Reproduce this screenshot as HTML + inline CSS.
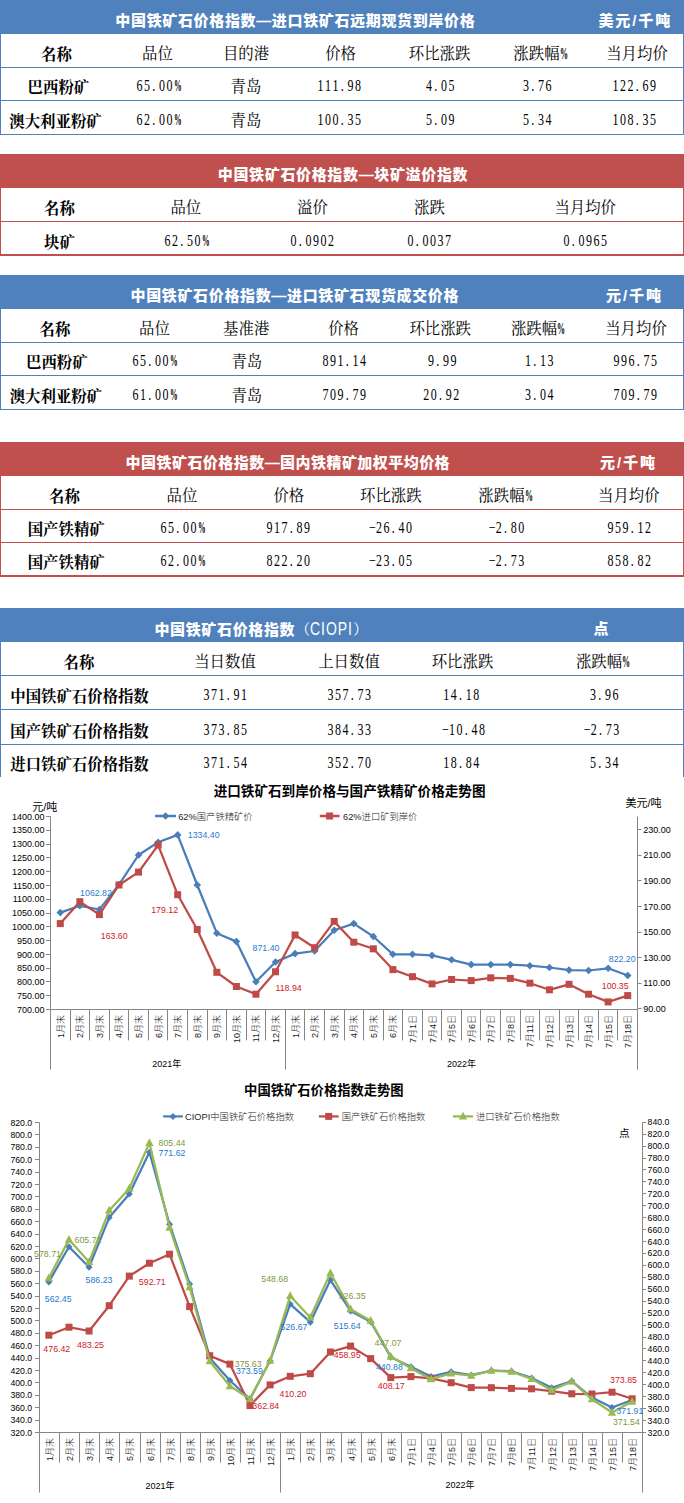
<!DOCTYPE html>
<html lang="zh-CN"><head><meta charset="utf-8"><title>中国铁矿石价格指数</title>
<style>
html,body{margin:0;padding:0;background:#fff}
body{width:684px;height:1503px;position:relative;overflow:hidden}
.bx{position:absolute}
.ttl,.b,.r,.n{position:absolute;line-height:20px;white-space:nowrap;text-align:center}
.ttl{font:900 15px/20px "Liberation Sans","Noto Sans CJK SC",sans-serif;color:#fff;letter-spacing:0.65px}
.cio{font:400 15px/20px "Liberation Serif","Noto Serif CJK SC",serif;letter-spacing:0}
.cio span{display:inline-block;font:400 17.5px/20px "Liberation Sans",sans-serif;letter-spacing:1.2px;transform:scaleX(0.8);transform-origin:0 0;margin-right:-11px}
.b{font:700 15.4px/20px "Liberation Serif","Noto Serif CJK SC",serif;color:#000}
.r{font:400 15.4px/20px "Liberation Serif","Noto Serif CJK SC",serif;color:#000}
.n{font:400 15px/20px "Liberation Serif",serif;color:#000;font-kerning:none;letter-spacing:1.875px;padding-left:1.2px;transform:scale(0.8,1.05)}
.n i,.r i{display:inline-block;width:7.5px;font-style:normal;text-align:center;letter-spacing:0}
.n i{width:9.375px}
.n i.d{text-align:left;padding-left:1px;width:8.375px}
.n i.pc,.r i.pc{font-family:"Liberation Serif",serif;font-size:16px;font-weight:700;transform:scaleX(0.5);transform-origin:0 0;width:16px;margin-right:-8.5px;text-align:left}
.n i.pc{transform:scaleX(0.6);margin-right:-6.625px}
svg{position:absolute;left:0;top:0}
</style></head><body>
<div class="bx" style="left:0px;top:0px;width:684px;height:34px;background:#4F81BD"></div>
<div class="ttl" style="left:-4.7px;top:10.5px;width:600px">中国铁矿石价格指数—进口铁矿石远期现货到岸价格</div>
<div class="ttl" style="left:575.3px;top:10.5px;width:120px;letter-spacing:1.9px">美元/千吨</div>
<div class="bx" style="left:0px;top:34px;width:1px;height:101px;background:#4F81BD"></div>
<div class="bx" style="left:683px;top:34px;width:1px;height:101px;background:#4F81BD"></div>
<div class="bx" style="left:0px;top:67px;width:684px;height:1px;background:#4F81BD"></div>
<div class="bx" style="left:0px;top:100px;width:684px;height:1px;background:#4F81BD"></div>
<div class="bx" style="left:0px;top:134px;width:684px;height:1px;background:#4F81BD"></div>
<div class="b" style="left:-93.5px;top:44.5px;width:300px">名称</div>
<div class="r" style="left:7.5px;top:44.0px;width:300px">品位</div>
<div class="r" style="left:96.0px;top:44.0px;width:300px">目的港</div>
<div class="r" style="left:190.6px;top:44.0px;width:300px">价格</div>
<div class="r" style="left:289.6px;top:44.0px;width:300px">环比涨跌</div>
<div class="r" style="left:390.2px;top:44.0px;width:300px">涨跌幅<i class=pc>%</i></div>
<div class="r" style="left:487.0px;top:44.0px;width:300px">当月均价</div>
<div class="b" style="left:-91.6px;top:77.5px;width:300px">巴西粉矿</div>
<div class="n" style="left:7.5px;top:75.7px;width:300px">65<i class=d>.</i>00<i class=pc>%</i></div>
<div class="r" style="left:96.0px;top:77.0px;width:300px">青岛</div>
<div class="n" style="left:189.3px;top:75.7px;width:300px">111<i class=d>.</i>98</div>
<div class="n" style="left:290.4px;top:75.7px;width:300px">4<i class=d>.</i>05</div>
<div class="n" style="left:387.4px;top:75.7px;width:300px">3<i class=d>.</i>76</div>
<div class="n" style="left:483.7px;top:75.7px;width:300px">122<i class=d>.</i>69</div>
<div class="b" style="left:-94.5px;top:111.5px;width:300px">澳大利亚粉矿</div>
<div class="n" style="left:7.5px;top:109.7px;width:300px">62<i class=d>.</i>00<i class=pc>%</i></div>
<div class="r" style="left:96.0px;top:111.0px;width:300px">青岛</div>
<div class="n" style="left:189.3px;top:109.7px;width:300px">100<i class=d>.</i>35</div>
<div class="n" style="left:290.4px;top:109.7px;width:300px">5<i class=d>.</i>09</div>
<div class="n" style="left:387.4px;top:109.7px;width:300px">5<i class=d>.</i>34</div>
<div class="n" style="left:483.7px;top:109.7px;width:300px">108<i class=d>.</i>35</div>
<div class="bx" style="left:0px;top:154px;width:684px;height:34px;background:#C0504D"></div>
<div class="ttl" style="left:43.0px;top:164.5px;width:600px">中国铁矿石价格指数—块矿溢价指数</div>
<div class="bx" style="left:0px;top:188px;width:1px;height:68px;background:#C0504D"></div>
<div class="bx" style="left:683px;top:188px;width:1px;height:68px;background:#C0504D"></div>
<div class="bx" style="left:0px;top:221px;width:684px;height:1px;background:#C0504D"></div>
<div class="bx" style="left:0px;top:254px;width:684px;height:2px;background:#C0504D"></div>
<div class="b" style="left:-90.5px;top:198.5px;width:300px">名称</div>
<div class="r" style="left:35.8px;top:198.0px;width:300px">品位</div>
<div class="r" style="left:162.5px;top:198.0px;width:300px">溢价</div>
<div class="r" style="left:279.5px;top:198.0px;width:300px">涨跌</div>
<div class="r" style="left:435.2px;top:198.0px;width:300px">当月均价</div>
<div class="b" style="left:-90.5px;top:232.5px;width:300px">块矿</div>
<div class="n" style="left:35.8px;top:230.7px;width:300px">62<i class=d>.</i>50<i class=pc>%</i></div>
<div class="n" style="left:162.0px;top:230.7px;width:300px">0<i class=d>.</i>0902</div>
<div class="n" style="left:279.0px;top:230.7px;width:300px">0<i class=d>.</i>0037</div>
<div class="n" style="left:434.5px;top:230.7px;width:300px">0<i class=d>.</i>0965</div>
<div class="bx" style="left:0px;top:275px;width:684px;height:34px;background:#4F81BD"></div>
<div class="ttl" style="left:-5.2px;top:285.5px;width:600px">中国铁矿石价格指数—进口铁矿石现货成交价格</div>
<div class="ttl" style="left:574.5px;top:285.5px;width:120px;letter-spacing:1.9px">元/千吨</div>
<div class="bx" style="left:0px;top:309px;width:1px;height:101px;background:#4F81BD"></div>
<div class="bx" style="left:683px;top:309px;width:1px;height:101px;background:#4F81BD"></div>
<div class="bx" style="left:0px;top:342px;width:684px;height:1px;background:#4F81BD"></div>
<div class="bx" style="left:0px;top:375px;width:684px;height:1px;background:#4F81BD"></div>
<div class="bx" style="left:0px;top:409px;width:684px;height:1px;background:#4F81BD"></div>
<div class="b" style="left:-95.0px;top:319.5px;width:300px">名称</div>
<div class="r" style="left:4.5px;top:319.0px;width:300px">品位</div>
<div class="r" style="left:96.2px;top:319.0px;width:300px">基准港</div>
<div class="r" style="left:193.6px;top:319.0px;width:300px">价格</div>
<div class="r" style="left:290.2px;top:319.0px;width:300px">环比涨跌</div>
<div class="r" style="left:387.8px;top:319.0px;width:300px">涨跌幅<i class=pc>%</i></div>
<div class="r" style="left:486.0px;top:319.0px;width:300px">当月均价</div>
<div class="b" style="left:-93.2px;top:352.5px;width:300px">巴西粉矿</div>
<div class="n" style="left:4.2px;top:350.7px;width:300px">65<i class=d>.</i>00<i class=pc>%</i></div>
<div class="r" style="left:96.8px;top:352.0px;width:300px">青岛</div>
<div class="n" style="left:194.0px;top:350.7px;width:300px">891<i class=d>.</i>14</div>
<div class="n" style="left:291.5px;top:350.7px;width:300px">9<i class=d>.</i>99</div>
<div class="n" style="left:388.8px;top:350.7px;width:300px">1<i class=d>.</i>13</div>
<div class="n" style="left:485.0px;top:350.7px;width:300px">996<i class=d>.</i>75</div>
<div class="b" style="left:-94.2px;top:386.5px;width:300px">澳大利亚粉矿</div>
<div class="n" style="left:4.2px;top:384.7px;width:300px">61<i class=d>.</i>00<i class=pc>%</i></div>
<div class="r" style="left:96.8px;top:386.0px;width:300px">青岛</div>
<div class="n" style="left:194.0px;top:384.7px;width:300px">709<i class=d>.</i>79</div>
<div class="n" style="left:290.8px;top:384.7px;width:300px">20<i class=d>.</i>92</div>
<div class="n" style="left:388.8px;top:384.7px;width:300px">3<i class=d>.</i>04</div>
<div class="n" style="left:485.0px;top:384.7px;width:300px">709<i class=d>.</i>79</div>
<div class="bx" style="left:0px;top:442px;width:684px;height:34px;background:#C0504D"></div>
<div class="ttl" style="left:-12.2px;top:452.5px;width:600px;letter-spacing:0.45px">中国铁矿石价格指数—国内铁精矿加权平均价格</div>
<div class="ttl" style="left:568.5px;top:452.5px;width:120px;letter-spacing:1.9px">元/千吨</div>
<div class="bx" style="left:0px;top:476px;width:1px;height:101px;background:#C0504D"></div>
<div class="bx" style="left:683px;top:476px;width:1px;height:101px;background:#C0504D"></div>
<div class="bx" style="left:0px;top:509px;width:684px;height:1px;background:#C0504D"></div>
<div class="bx" style="left:0px;top:542px;width:684px;height:1px;background:#C0504D"></div>
<div class="bx" style="left:0px;top:575px;width:684px;height:2px;background:#C0504D"></div>
<div class="b" style="left:-85.5px;top:486.5px;width:300px">名称</div>
<div class="r" style="left:32.0px;top:486.0px;width:300px">品位</div>
<div class="r" style="left:138.8px;top:486.0px;width:300px">价格</div>
<div class="r" style="left:240.8px;top:486.0px;width:300px">环比涨跌</div>
<div class="r" style="left:355.2px;top:486.0px;width:300px">涨跌幅<i class=pc>%</i></div>
<div class="r" style="left:478.8px;top:486.0px;width:300px">当月均价</div>
<div class="b" style="left:-83.8px;top:519.5px;width:300px">国产铁精矿</div>
<div class="n" style="left:32.0px;top:517.7px;width:300px">65<i class=d>.</i>00<i class=pc>%</i></div>
<div class="n" style="left:138.0px;top:517.7px;width:300px">917<i class=d>.</i>89</div>
<div class="n" style="left:240.0px;top:517.7px;width:300px"><i>&#8722;</i>26<i class=d>.</i>40</div>
<div class="n" style="left:355.8px;top:517.7px;width:300px"><i>&#8722;</i>2<i class=d>.</i>80</div>
<div class="n" style="left:479.0px;top:517.7px;width:300px">959<i class=d>.</i>12</div>
<div class="b" style="left:-83.8px;top:552.5px;width:300px">国产铁精矿</div>
<div class="n" style="left:32.0px;top:550.7px;width:300px">62<i class=d>.</i>00<i class=pc>%</i></div>
<div class="n" style="left:138.0px;top:550.7px;width:300px">822<i class=d>.</i>20</div>
<div class="n" style="left:240.0px;top:550.7px;width:300px"><i>&#8722;</i>23<i class=d>.</i>05</div>
<div class="n" style="left:355.8px;top:550.7px;width:300px"><i>&#8722;</i>2<i class=d>.</i>73</div>
<div class="n" style="left:479.0px;top:550.7px;width:300px">858<i class=d>.</i>82</div>
<div class="bx" style="left:0px;top:608px;width:684px;height:34px;background:#4F81BD"></div>
<div class="ttl" style="left:-38.8px;top:618.5px;width:600px">中国铁矿石价格指数<span class=cio>（<span>CIOPI</span>）</span></div>
<div class="ttl" style="left:542.0px;top:618.5px;width:120px;letter-spacing:1.9px">点</div>
<div class="bx" style="left:0px;top:642px;width:1px;height:135px;background:#4F81BD"></div>
<div class="bx" style="left:683px;top:642px;width:1px;height:135px;background:#4F81BD"></div>
<div class="bx" style="left:0px;top:675px;width:684px;height:1px;background:#4F81BD"></div>
<div class="bx" style="left:0px;top:709px;width:684px;height:1px;background:#4F81BD"></div>
<div class="bx" style="left:0px;top:744px;width:684px;height:1px;background:#4F81BD"></div>
<div class="b" style="left:-71.0px;top:652.5px;width:300px">名称</div>
<div class="r" style="left:75.0px;top:652.0px;width:300px">当日数值</div>
<div class="r" style="left:199.0px;top:652.0px;width:300px">上日数值</div>
<div class="r" style="left:312.5px;top:652.0px;width:300px">环比涨跌</div>
<div class="r" style="left:452.8px;top:652.0px;width:300px">涨跌幅<i class=pc>%</i></div>
<div class="b" style="left:-70.5px;top:686.5px;width:300px">中国铁矿石价格指数</div>
<div class="n" style="left:74.5px;top:684.7px;width:300px">371<i class=d>.</i>91</div>
<div class="n" style="left:199.3px;top:684.7px;width:300px">357<i class=d>.</i>73</div>
<div class="n" style="left:310.8px;top:684.7px;width:300px">14<i class=d>.</i>18</div>
<div class="n" style="left:453.8px;top:684.7px;width:300px">3<i class=d>.</i>96</div>
<div class="b" style="left:-70.5px;top:721.5px;width:300px">国产铁矿石价格指数</div>
<div class="n" style="left:74.5px;top:719.7px;width:300px">373<i class=d>.</i>85</div>
<div class="n" style="left:199.3px;top:719.7px;width:300px">384<i class=d>.</i>33</div>
<div class="n" style="left:312.5px;top:719.7px;width:300px"><i>&#8722;</i>10<i class=d>.</i>48</div>
<div class="n" style="left:451.2px;top:719.7px;width:300px"><i>&#8722;</i>2<i class=d>.</i>73</div>
<div class="b" style="left:-70.5px;top:754.5px;width:300px">进口铁矿石价格指数</div>
<div class="n" style="left:74.5px;top:752.7px;width:300px">371<i class=d>.</i>54</div>
<div class="n" style="left:199.3px;top:752.7px;width:300px">352<i class=d>.</i>70</div>
<div class="n" style="left:310.8px;top:752.7px;width:300px">18<i class=d>.</i>84</div>
<div class="n" style="left:453.8px;top:752.7px;width:300px">5<i class=d>.</i>34</div>
<svg width="684" height="1503" viewBox="0 0 684 1503">
<text x="349.60" y="795.50" font-size="13.6" text-anchor="middle" fill="#000" font-weight="700" font-family='"Liberation Sans","Noto Sans CJK SC",sans-serif'>进口铁矿石到岸价格与国产铁精矿价格走势图</text>
<text x="44.80" y="811.00" font-size="11" text-anchor="middle" fill="#000" font-weight="400" font-family='"Liberation Sans","Noto Sans CJK SC",sans-serif'>元/吨</text>
<text x="643.60" y="806.50" font-size="11" text-anchor="middle" fill="#000" font-weight="400" font-family='"Liberation Sans","Noto Sans CJK SC",sans-serif'>美元/吨</text>
<line x1="50.50" y1="816.50" x2="50.50" y2="1009.50" stroke="#868686" stroke-width="1"/>
<line x1="637.50" y1="816.50" x2="637.50" y2="1069.50" stroke="#868686" stroke-width="1"/>
<line x1="46.00" y1="816.50" x2="50.50" y2="816.50" stroke="#868686" stroke-width="1"/>
<text x="44.60" y="819.70" font-size="9" text-anchor="end" fill="#000" font-weight="400" font-family='"Liberation Sans","Noto Sans CJK SC",sans-serif'>1400.00</text>
<line x1="46.00" y1="830.50" x2="50.50" y2="830.50" stroke="#868686" stroke-width="1"/>
<text x="44.60" y="833.49" font-size="9" text-anchor="end" fill="#000" font-weight="400" font-family='"Liberation Sans","Noto Sans CJK SC",sans-serif'>1350.00</text>
<line x1="46.00" y1="844.50" x2="50.50" y2="844.50" stroke="#868686" stroke-width="1"/>
<text x="44.60" y="847.27" font-size="9" text-anchor="end" fill="#000" font-weight="400" font-family='"Liberation Sans","Noto Sans CJK SC",sans-serif'>1300.00</text>
<line x1="46.00" y1="857.50" x2="50.50" y2="857.50" stroke="#868686" stroke-width="1"/>
<text x="44.60" y="861.06" font-size="9" text-anchor="end" fill="#000" font-weight="400" font-family='"Liberation Sans","Noto Sans CJK SC",sans-serif'>1250.00</text>
<line x1="46.00" y1="871.50" x2="50.50" y2="871.50" stroke="#868686" stroke-width="1"/>
<text x="44.60" y="874.84" font-size="9" text-anchor="end" fill="#000" font-weight="400" font-family='"Liberation Sans","Noto Sans CJK SC",sans-serif'>1200.00</text>
<line x1="46.00" y1="885.50" x2="50.50" y2="885.50" stroke="#868686" stroke-width="1"/>
<text x="44.60" y="888.63" font-size="9" text-anchor="end" fill="#000" font-weight="400" font-family='"Liberation Sans","Noto Sans CJK SC",sans-serif'>1150.00</text>
<line x1="46.00" y1="899.50" x2="50.50" y2="899.50" stroke="#868686" stroke-width="1"/>
<text x="44.60" y="902.41" font-size="9" text-anchor="end" fill="#000" font-weight="400" font-family='"Liberation Sans","Noto Sans CJK SC",sans-serif'>1100.00</text>
<line x1="46.00" y1="913.50" x2="50.50" y2="913.50" stroke="#868686" stroke-width="1"/>
<text x="44.60" y="916.20" font-size="9" text-anchor="end" fill="#000" font-weight="400" font-family='"Liberation Sans","Noto Sans CJK SC",sans-serif'>1050.00</text>
<line x1="46.00" y1="926.50" x2="50.50" y2="926.50" stroke="#868686" stroke-width="1"/>
<text x="44.60" y="929.99" font-size="9" text-anchor="end" fill="#000" font-weight="400" font-family='"Liberation Sans","Noto Sans CJK SC",sans-serif'>1000.00</text>
<line x1="46.00" y1="940.50" x2="50.50" y2="940.50" stroke="#868686" stroke-width="1"/>
<text x="44.60" y="943.77" font-size="9" text-anchor="end" fill="#000" font-weight="400" font-family='"Liberation Sans","Noto Sans CJK SC",sans-serif'>950.00</text>
<line x1="46.00" y1="954.50" x2="50.50" y2="954.50" stroke="#868686" stroke-width="1"/>
<text x="44.60" y="957.56" font-size="9" text-anchor="end" fill="#000" font-weight="400" font-family='"Liberation Sans","Noto Sans CJK SC",sans-serif'>900.00</text>
<line x1="46.00" y1="968.50" x2="50.50" y2="968.50" stroke="#868686" stroke-width="1"/>
<text x="44.60" y="971.34" font-size="9" text-anchor="end" fill="#000" font-weight="400" font-family='"Liberation Sans","Noto Sans CJK SC",sans-serif'>850.00</text>
<line x1="46.00" y1="981.50" x2="50.50" y2="981.50" stroke="#868686" stroke-width="1"/>
<text x="44.60" y="985.13" font-size="9" text-anchor="end" fill="#000" font-weight="400" font-family='"Liberation Sans","Noto Sans CJK SC",sans-serif'>800.00</text>
<line x1="46.00" y1="995.50" x2="50.50" y2="995.50" stroke="#868686" stroke-width="1"/>
<text x="44.60" y="998.91" font-size="9" text-anchor="end" fill="#000" font-weight="400" font-family='"Liberation Sans","Noto Sans CJK SC",sans-serif'>750.00</text>
<line x1="46.00" y1="1009.50" x2="50.50" y2="1009.50" stroke="#868686" stroke-width="1"/>
<text x="44.60" y="1012.70" font-size="9" text-anchor="end" fill="#000" font-weight="400" font-family='"Liberation Sans","Noto Sans CJK SC",sans-serif'>700.00</text>
<line x1="637.50" y1="829.50" x2="641.50" y2="829.50" stroke="#868686" stroke-width="1"/>
<text x="643.30" y="832.70" font-size="9" text-anchor="start" fill="#000" font-weight="400" font-family='"Liberation Sans","Noto Sans CJK SC",sans-serif'>230.00</text>
<line x1="637.50" y1="855.50" x2="641.50" y2="855.50" stroke="#868686" stroke-width="1"/>
<text x="643.30" y="858.33" font-size="9" text-anchor="start" fill="#000" font-weight="400" font-family='"Liberation Sans","Noto Sans CJK SC",sans-serif'>210.00</text>
<line x1="637.50" y1="880.50" x2="641.50" y2="880.50" stroke="#868686" stroke-width="1"/>
<text x="643.30" y="883.96" font-size="9" text-anchor="start" fill="#000" font-weight="400" font-family='"Liberation Sans","Noto Sans CJK SC",sans-serif'>190.00</text>
<line x1="637.50" y1="906.50" x2="641.50" y2="906.50" stroke="#868686" stroke-width="1"/>
<text x="643.30" y="909.59" font-size="9" text-anchor="start" fill="#000" font-weight="400" font-family='"Liberation Sans","Noto Sans CJK SC",sans-serif'>170.00</text>
<line x1="637.50" y1="932.50" x2="641.50" y2="932.50" stroke="#868686" stroke-width="1"/>
<text x="643.30" y="935.21" font-size="9" text-anchor="start" fill="#000" font-weight="400" font-family='"Liberation Sans","Noto Sans CJK SC",sans-serif'>150.00</text>
<line x1="637.50" y1="957.50" x2="641.50" y2="957.50" stroke="#868686" stroke-width="1"/>
<text x="643.30" y="960.84" font-size="9" text-anchor="start" fill="#000" font-weight="400" font-family='"Liberation Sans","Noto Sans CJK SC",sans-serif'>130.00</text>
<line x1="637.50" y1="983.50" x2="641.50" y2="983.50" stroke="#868686" stroke-width="1"/>
<text x="643.30" y="986.47" font-size="9" text-anchor="start" fill="#000" font-weight="400" font-family='"Liberation Sans","Noto Sans CJK SC",sans-serif'>110.00</text>
<line x1="637.50" y1="1008.50" x2="641.50" y2="1008.50" stroke="#868686" stroke-width="1"/>
<text x="643.30" y="1012.10" font-size="9" text-anchor="start" fill="#000" font-weight="400" font-family='"Liberation Sans","Noto Sans CJK SC",sans-serif'>90.00</text>
<line x1="50.00" y1="1009.50" x2="638.00" y2="1009.50" stroke="#868686" stroke-width="1"/>
<line x1="50.50" y1="1009.50" x2="50.50" y2="1069.40" stroke="#868686" stroke-width="1"/>
<line x1="70.50" y1="1009.50" x2="70.50" y2="1040.40" stroke="#868686" stroke-width="1"/>
<line x1="89.50" y1="1009.50" x2="89.50" y2="1040.40" stroke="#868686" stroke-width="1"/>
<line x1="109.50" y1="1009.50" x2="109.50" y2="1040.40" stroke="#868686" stroke-width="1"/>
<line x1="128.50" y1="1009.50" x2="128.50" y2="1040.40" stroke="#868686" stroke-width="1"/>
<line x1="148.50" y1="1009.50" x2="148.50" y2="1040.40" stroke="#868686" stroke-width="1"/>
<line x1="167.50" y1="1009.50" x2="167.50" y2="1040.40" stroke="#868686" stroke-width="1"/>
<line x1="187.50" y1="1009.50" x2="187.50" y2="1040.40" stroke="#868686" stroke-width="1"/>
<line x1="207.50" y1="1009.50" x2="207.50" y2="1040.40" stroke="#868686" stroke-width="1"/>
<line x1="226.50" y1="1009.50" x2="226.50" y2="1040.40" stroke="#868686" stroke-width="1"/>
<line x1="246.50" y1="1009.50" x2="246.50" y2="1040.40" stroke="#868686" stroke-width="1"/>
<line x1="265.50" y1="1009.50" x2="265.50" y2="1040.40" stroke="#868686" stroke-width="1"/>
<line x1="285.50" y1="1009.50" x2="285.50" y2="1069.40" stroke="#868686" stroke-width="1"/>
<line x1="304.50" y1="1009.50" x2="304.50" y2="1040.40" stroke="#868686" stroke-width="1"/>
<line x1="324.50" y1="1009.50" x2="324.50" y2="1040.40" stroke="#868686" stroke-width="1"/>
<line x1="344.50" y1="1009.50" x2="344.50" y2="1040.40" stroke="#868686" stroke-width="1"/>
<line x1="363.50" y1="1009.50" x2="363.50" y2="1040.40" stroke="#868686" stroke-width="1"/>
<line x1="383.50" y1="1009.50" x2="383.50" y2="1040.40" stroke="#868686" stroke-width="1"/>
<line x1="402.50" y1="1009.50" x2="402.50" y2="1040.40" stroke="#868686" stroke-width="1"/>
<line x1="422.50" y1="1009.50" x2="422.50" y2="1040.40" stroke="#868686" stroke-width="1"/>
<line x1="441.50" y1="1009.50" x2="441.50" y2="1040.40" stroke="#868686" stroke-width="1"/>
<line x1="461.50" y1="1009.50" x2="461.50" y2="1040.40" stroke="#868686" stroke-width="1"/>
<line x1="480.50" y1="1009.50" x2="480.50" y2="1040.40" stroke="#868686" stroke-width="1"/>
<line x1="500.50" y1="1009.50" x2="500.50" y2="1040.40" stroke="#868686" stroke-width="1"/>
<line x1="520.50" y1="1009.50" x2="520.50" y2="1040.40" stroke="#868686" stroke-width="1"/>
<line x1="539.50" y1="1009.50" x2="539.50" y2="1040.40" stroke="#868686" stroke-width="1"/>
<line x1="559.50" y1="1009.50" x2="559.50" y2="1040.40" stroke="#868686" stroke-width="1"/>
<line x1="578.50" y1="1009.50" x2="578.50" y2="1040.40" stroke="#868686" stroke-width="1"/>
<line x1="598.50" y1="1009.50" x2="598.50" y2="1040.40" stroke="#868686" stroke-width="1"/>
<line x1="617.50" y1="1009.50" x2="617.50" y2="1040.40" stroke="#868686" stroke-width="1"/>
<line x1="637.50" y1="1009.50" x2="637.50" y2="1069.40" stroke="#868686" stroke-width="1"/>
<text transform="translate(63.78,1015.00) rotate(-90)" font-size="9" text-anchor="end" fill="#1a1a1a" font-weight="300" font-family='"Liberation Sans","Noto Sans CJK SC",sans-serif'>1月末</text>
<text transform="translate(83.35,1015.00) rotate(-90)" font-size="9" text-anchor="end" fill="#1a1a1a" font-weight="300" font-family='"Liberation Sans","Noto Sans CJK SC",sans-serif'>2月末</text>
<text transform="translate(102.92,1015.00) rotate(-90)" font-size="9" text-anchor="end" fill="#1a1a1a" font-weight="300" font-family='"Liberation Sans","Noto Sans CJK SC",sans-serif'>3月末</text>
<text transform="translate(122.48,1015.00) rotate(-90)" font-size="9" text-anchor="end" fill="#1a1a1a" font-weight="300" font-family='"Liberation Sans","Noto Sans CJK SC",sans-serif'>4月末</text>
<text transform="translate(142.05,1015.00) rotate(-90)" font-size="9" text-anchor="end" fill="#1a1a1a" font-weight="300" font-family='"Liberation Sans","Noto Sans CJK SC",sans-serif'>5月末</text>
<text transform="translate(161.62,1015.00) rotate(-90)" font-size="9" text-anchor="end" fill="#1a1a1a" font-weight="300" font-family='"Liberation Sans","Noto Sans CJK SC",sans-serif'>6月末</text>
<text transform="translate(181.18,1015.00) rotate(-90)" font-size="9" text-anchor="end" fill="#1a1a1a" font-weight="300" font-family='"Liberation Sans","Noto Sans CJK SC",sans-serif'>7月末</text>
<text transform="translate(200.75,1015.00) rotate(-90)" font-size="9" text-anchor="end" fill="#1a1a1a" font-weight="300" font-family='"Liberation Sans","Noto Sans CJK SC",sans-serif'>8月末</text>
<text transform="translate(220.32,1015.00) rotate(-90)" font-size="9" text-anchor="end" fill="#1a1a1a" font-weight="300" font-family='"Liberation Sans","Noto Sans CJK SC",sans-serif'>9月末</text>
<text transform="translate(239.88,1015.00) rotate(-90)" font-size="9" text-anchor="end" fill="#1a1a1a" font-weight="300" font-family='"Liberation Sans","Noto Sans CJK SC",sans-serif'>10月末</text>
<text transform="translate(259.45,1015.00) rotate(-90)" font-size="9" text-anchor="end" fill="#1a1a1a" font-weight="300" font-family='"Liberation Sans","Noto Sans CJK SC",sans-serif'>11月末</text>
<text transform="translate(279.02,1015.00) rotate(-90)" font-size="9" text-anchor="end" fill="#1a1a1a" font-weight="300" font-family='"Liberation Sans","Noto Sans CJK SC",sans-serif'>12月末</text>
<text transform="translate(298.58,1015.00) rotate(-90)" font-size="9" text-anchor="end" fill="#1a1a1a" font-weight="300" font-family='"Liberation Sans","Noto Sans CJK SC",sans-serif'>1月末</text>
<text transform="translate(318.15,1015.00) rotate(-90)" font-size="9" text-anchor="end" fill="#1a1a1a" font-weight="300" font-family='"Liberation Sans","Noto Sans CJK SC",sans-serif'>2月末</text>
<text transform="translate(337.72,1015.00) rotate(-90)" font-size="9" text-anchor="end" fill="#1a1a1a" font-weight="300" font-family='"Liberation Sans","Noto Sans CJK SC",sans-serif'>3月末</text>
<text transform="translate(357.28,1015.00) rotate(-90)" font-size="9" text-anchor="end" fill="#1a1a1a" font-weight="300" font-family='"Liberation Sans","Noto Sans CJK SC",sans-serif'>4月末</text>
<text transform="translate(376.85,1015.00) rotate(-90)" font-size="9" text-anchor="end" fill="#1a1a1a" font-weight="300" font-family='"Liberation Sans","Noto Sans CJK SC",sans-serif'>5月末</text>
<text transform="translate(396.42,1015.00) rotate(-90)" font-size="9" text-anchor="end" fill="#1a1a1a" font-weight="300" font-family='"Liberation Sans","Noto Sans CJK SC",sans-serif'>6月末</text>
<text transform="translate(415.98,1015.00) rotate(-90)" font-size="9" text-anchor="end" fill="#1a1a1a" font-weight="300" font-family='"Liberation Sans","Noto Sans CJK SC",sans-serif'>7月1日</text>
<text transform="translate(435.55,1015.00) rotate(-90)" font-size="9" text-anchor="end" fill="#1a1a1a" font-weight="300" font-family='"Liberation Sans","Noto Sans CJK SC",sans-serif'>7月4日</text>
<text transform="translate(455.12,1015.00) rotate(-90)" font-size="9" text-anchor="end" fill="#1a1a1a" font-weight="300" font-family='"Liberation Sans","Noto Sans CJK SC",sans-serif'>7月5日</text>
<text transform="translate(474.68,1015.00) rotate(-90)" font-size="9" text-anchor="end" fill="#1a1a1a" font-weight="300" font-family='"Liberation Sans","Noto Sans CJK SC",sans-serif'>7月6日</text>
<text transform="translate(494.25,1015.00) rotate(-90)" font-size="9" text-anchor="end" fill="#1a1a1a" font-weight="300" font-family='"Liberation Sans","Noto Sans CJK SC",sans-serif'>7月7日</text>
<text transform="translate(513.82,1015.00) rotate(-90)" font-size="9" text-anchor="end" fill="#1a1a1a" font-weight="300" font-family='"Liberation Sans","Noto Sans CJK SC",sans-serif'>7月8日</text>
<text transform="translate(533.38,1015.00) rotate(-90)" font-size="9" text-anchor="end" fill="#1a1a1a" font-weight="300" font-family='"Liberation Sans","Noto Sans CJK SC",sans-serif'>7月11日</text>
<text transform="translate(552.95,1015.00) rotate(-90)" font-size="9" text-anchor="end" fill="#1a1a1a" font-weight="300" font-family='"Liberation Sans","Noto Sans CJK SC",sans-serif'>7月12日</text>
<text transform="translate(572.52,1015.00) rotate(-90)" font-size="9" text-anchor="end" fill="#1a1a1a" font-weight="300" font-family='"Liberation Sans","Noto Sans CJK SC",sans-serif'>7月13日</text>
<text transform="translate(592.08,1015.00) rotate(-90)" font-size="9" text-anchor="end" fill="#1a1a1a" font-weight="300" font-family='"Liberation Sans","Noto Sans CJK SC",sans-serif'>7月14日</text>
<text transform="translate(611.65,1015.00) rotate(-90)" font-size="9" text-anchor="end" fill="#1a1a1a" font-weight="300" font-family='"Liberation Sans","Noto Sans CJK SC",sans-serif'>7月15日</text>
<text transform="translate(631.22,1015.00) rotate(-90)" font-size="9" text-anchor="end" fill="#1a1a1a" font-weight="300" font-family='"Liberation Sans","Noto Sans CJK SC",sans-serif'>7月18日</text>
<text x="166.80" y="1066.70" font-size="9" text-anchor="middle" fill="#000" font-weight="400" font-family='"Liberation Sans","Noto Sans CJK SC",sans-serif'>2021年</text>
<text x="461.50" y="1066.70" font-size="9" text-anchor="middle" fill="#000" font-weight="400" font-family='"Liberation Sans","Noto Sans CJK SC",sans-serif'>2022年</text>
<polyline points="60.28,912.60 79.85,905.80 99.42,909.50 118.98,884.60 138.55,855.00 158.12,842.20 177.68,834.90 197.25,885.00 216.82,933.20 236.38,941.60 255.95,981.70 275.52,962.00 295.08,953.60 314.65,951.00 334.22,930.20 353.78,923.60 373.35,936.50 392.92,954.30 412.48,954.30 432.05,955.40 451.62,959.80 471.18,964.60 490.75,964.60 510.32,964.60 529.88,965.70 549.45,967.50 569.02,970.10 588.58,970.50 608.15,968.30 627.72,975.50" fill="none" stroke="#4A7EBB" stroke-width="2.25" stroke-linejoin="round" stroke-linecap="round"/>
<path d="M60.28 908.80L64.08 912.60L60.28 916.40L56.48 912.60Z" fill="#4A7EBB"/>
<path d="M79.85 902.00L83.65 905.80L79.85 909.60L76.05 905.80Z" fill="#4A7EBB"/>
<path d="M99.42 905.70L103.22 909.50L99.42 913.30L95.62 909.50Z" fill="#4A7EBB"/>
<path d="M118.98 880.80L122.78 884.60L118.98 888.40L115.18 884.60Z" fill="#4A7EBB"/>
<path d="M138.55 851.20L142.35 855.00L138.55 858.80L134.75 855.00Z" fill="#4A7EBB"/>
<path d="M158.12 838.40L161.92 842.20L158.12 846.00L154.32 842.20Z" fill="#4A7EBB"/>
<path d="M177.68 831.10L181.48 834.90L177.68 838.70L173.88 834.90Z" fill="#4A7EBB"/>
<path d="M197.25 881.20L201.05 885.00L197.25 888.80L193.45 885.00Z" fill="#4A7EBB"/>
<path d="M216.82 929.40L220.62 933.20L216.82 937.00L213.02 933.20Z" fill="#4A7EBB"/>
<path d="M236.38 937.80L240.18 941.60L236.38 945.40L232.58 941.60Z" fill="#4A7EBB"/>
<path d="M255.95 977.90L259.75 981.70L255.95 985.50L252.15 981.70Z" fill="#4A7EBB"/>
<path d="M275.52 958.20L279.32 962.00L275.52 965.80L271.72 962.00Z" fill="#4A7EBB"/>
<path d="M295.08 949.80L298.88 953.60L295.08 957.40L291.28 953.60Z" fill="#4A7EBB"/>
<path d="M314.65 947.20L318.45 951.00L314.65 954.80L310.85 951.00Z" fill="#4A7EBB"/>
<path d="M334.22 926.40L338.02 930.20L334.22 934.00L330.42 930.20Z" fill="#4A7EBB"/>
<path d="M353.78 919.80L357.58 923.60L353.78 927.40L349.98 923.60Z" fill="#4A7EBB"/>
<path d="M373.35 932.70L377.15 936.50L373.35 940.30L369.55 936.50Z" fill="#4A7EBB"/>
<path d="M392.92 950.50L396.72 954.30L392.92 958.10L389.12 954.30Z" fill="#4A7EBB"/>
<path d="M412.48 950.50L416.28 954.30L412.48 958.10L408.68 954.30Z" fill="#4A7EBB"/>
<path d="M432.05 951.60L435.85 955.40L432.05 959.20L428.25 955.40Z" fill="#4A7EBB"/>
<path d="M451.62 956.00L455.42 959.80L451.62 963.60L447.82 959.80Z" fill="#4A7EBB"/>
<path d="M471.18 960.80L474.98 964.60L471.18 968.40L467.38 964.60Z" fill="#4A7EBB"/>
<path d="M490.75 960.80L494.55 964.60L490.75 968.40L486.95 964.60Z" fill="#4A7EBB"/>
<path d="M510.32 960.80L514.12 964.60L510.32 968.40L506.52 964.60Z" fill="#4A7EBB"/>
<path d="M529.88 961.90L533.68 965.70L529.88 969.50L526.08 965.70Z" fill="#4A7EBB"/>
<path d="M549.45 963.70L553.25 967.50L549.45 971.30L545.65 967.50Z" fill="#4A7EBB"/>
<path d="M569.02 966.30L572.82 970.10L569.02 973.90L565.22 970.10Z" fill="#4A7EBB"/>
<path d="M588.58 966.70L592.38 970.50L588.58 974.30L584.78 970.50Z" fill="#4A7EBB"/>
<path d="M608.15 964.50L611.95 968.30L608.15 972.10L604.35 968.30Z" fill="#4A7EBB"/>
<path d="M627.72 971.70L631.52 975.50L627.72 979.30L623.92 975.50Z" fill="#4A7EBB"/>
<polyline points="60.28,923.60 79.85,901.70 99.42,914.60 118.98,885.00 138.55,872.10 158.12,845.10 177.68,894.70 197.25,929.50 216.82,972.30 236.38,986.50 255.95,994.20 275.52,971.80 295.08,935.00 314.65,947.70 334.22,921.40 353.78,942.20 373.35,948.80 392.92,969.60 412.48,976.70 432.05,983.90 451.62,979.50 471.18,980.60 490.75,977.80 510.32,978.40 529.88,983.20 549.45,989.80 569.02,984.30 588.58,994.20 608.15,1001.90 627.72,995.60" fill="none" stroke="#BE4B48" stroke-width="2.25" stroke-linejoin="round" stroke-linecap="round"/>
<rect x="56.78" y="920.10" width="7.00" height="7.00" fill="#BE4B48"/>
<rect x="76.35" y="898.20" width="7.00" height="7.00" fill="#BE4B48"/>
<rect x="95.92" y="911.10" width="7.00" height="7.00" fill="#BE4B48"/>
<rect x="115.48" y="881.50" width="7.00" height="7.00" fill="#BE4B48"/>
<rect x="135.05" y="868.60" width="7.00" height="7.00" fill="#BE4B48"/>
<rect x="154.62" y="841.60" width="7.00" height="7.00" fill="#BE4B48"/>
<rect x="174.18" y="891.20" width="7.00" height="7.00" fill="#BE4B48"/>
<rect x="193.75" y="926.00" width="7.00" height="7.00" fill="#BE4B48"/>
<rect x="213.32" y="968.80" width="7.00" height="7.00" fill="#BE4B48"/>
<rect x="232.88" y="983.00" width="7.00" height="7.00" fill="#BE4B48"/>
<rect x="252.45" y="990.70" width="7.00" height="7.00" fill="#BE4B48"/>
<rect x="272.02" y="968.30" width="7.00" height="7.00" fill="#BE4B48"/>
<rect x="291.58" y="931.50" width="7.00" height="7.00" fill="#BE4B48"/>
<rect x="311.15" y="944.20" width="7.00" height="7.00" fill="#BE4B48"/>
<rect x="330.72" y="917.90" width="7.00" height="7.00" fill="#BE4B48"/>
<rect x="350.28" y="938.70" width="7.00" height="7.00" fill="#BE4B48"/>
<rect x="369.85" y="945.30" width="7.00" height="7.00" fill="#BE4B48"/>
<rect x="389.42" y="966.10" width="7.00" height="7.00" fill="#BE4B48"/>
<rect x="408.98" y="973.20" width="7.00" height="7.00" fill="#BE4B48"/>
<rect x="428.55" y="980.40" width="7.00" height="7.00" fill="#BE4B48"/>
<rect x="448.12" y="976.00" width="7.00" height="7.00" fill="#BE4B48"/>
<rect x="467.68" y="977.10" width="7.00" height="7.00" fill="#BE4B48"/>
<rect x="487.25" y="974.30" width="7.00" height="7.00" fill="#BE4B48"/>
<rect x="506.82" y="974.90" width="7.00" height="7.00" fill="#BE4B48"/>
<rect x="526.38" y="979.70" width="7.00" height="7.00" fill="#BE4B48"/>
<rect x="545.95" y="986.30" width="7.00" height="7.00" fill="#BE4B48"/>
<rect x="565.52" y="980.80" width="7.00" height="7.00" fill="#BE4B48"/>
<rect x="585.08" y="990.70" width="7.00" height="7.00" fill="#BE4B48"/>
<rect x="604.65" y="998.40" width="7.00" height="7.00" fill="#BE4B48"/>
<rect x="624.22" y="992.10" width="7.00" height="7.00" fill="#BE4B48"/>
<line x1="155.00" y1="816.00" x2="176.00" y2="816.00" stroke="#4A7EBB" stroke-width="2.5"/>
<path d="M165.50 812.20L169.30 816.00L165.50 819.80L161.70 816.00Z" fill="#4A7EBB"/>
<text x="178.20" y="820.00" font-size="9.3" text-anchor="start" fill="#262626" font-weight="300" font-family='"Liberation Sans","Noto Sans CJK SC",sans-serif'>62%国产铁精矿价</text>
<line x1="319.80" y1="816.00" x2="339.50" y2="816.00" stroke="#BE4B48" stroke-width="2.5"/>
<rect x="326.10" y="812.50" width="7.00" height="7.00" fill="#BE4B48"/>
<text x="343.00" y="820.00" font-size="9.3" text-anchor="start" fill="#262626" font-weight="300" font-family='"Liberation Sans","Noto Sans CJK SC",sans-serif'>62%进口矿到岸价</text>
<text x="96.00" y="895.70" font-size="8.8" text-anchor="middle" fill="#1F7BD0" font-weight="400" font-family='"Liberation Sans","Noto Sans CJK SC",sans-serif'>1062.82</text>
<text x="203.70" y="838.00" font-size="8.8" text-anchor="middle" fill="#1F7BD0" font-weight="400" font-family='"Liberation Sans","Noto Sans CJK SC",sans-serif'>1334.40</text>
<text x="266.00" y="950.50" font-size="8.8" text-anchor="middle" fill="#1F7BD0" font-weight="400" font-family='"Liberation Sans","Noto Sans CJK SC",sans-serif'>871.40</text>
<text x="622.20" y="962.10" font-size="8.8" text-anchor="middle" fill="#1F7BD0" font-weight="400" font-family='"Liberation Sans","Noto Sans CJK SC",sans-serif'>822.20</text>
<text x="114.20" y="938.70" font-size="8.8" text-anchor="middle" fill="#CF2129" font-weight="400" font-family='"Liberation Sans","Noto Sans CJK SC",sans-serif'>163.60</text>
<text x="164.60" y="913.20" font-size="8.8" text-anchor="middle" fill="#CF2129" font-weight="400" font-family='"Liberation Sans","Noto Sans CJK SC",sans-serif'>179.12</text>
<text x="288.60" y="991.00" font-size="8.8" text-anchor="middle" fill="#CF2129" font-weight="400" font-family='"Liberation Sans","Noto Sans CJK SC",sans-serif'>118.94</text>
<text x="615.20" y="989.10" font-size="8.8" text-anchor="middle" fill="#CF2129" font-weight="400" font-family='"Liberation Sans","Noto Sans CJK SC",sans-serif'>100.35</text>
<text x="323.90" y="1094.60" font-size="13.3" text-anchor="middle" fill="#000" font-weight="700" font-family='"Liberation Sans","Noto Sans CJK SC",sans-serif'>中国铁矿石价格指数走势图</text>
<line x1="39.50" y1="1122.50" x2="39.50" y2="1432.50" stroke="#868686" stroke-width="1"/>
<line x1="642.50" y1="1122.50" x2="642.50" y2="1492.00" stroke="#868686" stroke-width="1"/>
<line x1="35.00" y1="1122.50" x2="39.50" y2="1122.50" stroke="#868686" stroke-width="1"/>
<text x="32.20" y="1125.50" font-size="8.7" text-anchor="end" fill="#000" font-weight="400" font-family='"Liberation Sans","Noto Sans CJK SC",sans-serif'>820.0</text>
<line x1="35.00" y1="1134.50" x2="39.50" y2="1134.50" stroke="#868686" stroke-width="1"/>
<text x="32.20" y="1137.90" font-size="8.7" text-anchor="end" fill="#000" font-weight="400" font-family='"Liberation Sans","Noto Sans CJK SC",sans-serif'>800.0</text>
<line x1="35.00" y1="1147.50" x2="39.50" y2="1147.50" stroke="#868686" stroke-width="1"/>
<text x="32.20" y="1150.30" font-size="8.7" text-anchor="end" fill="#000" font-weight="400" font-family='"Liberation Sans","Noto Sans CJK SC",sans-serif'>780.0</text>
<line x1="35.00" y1="1159.50" x2="39.50" y2="1159.50" stroke="#868686" stroke-width="1"/>
<text x="32.20" y="1162.70" font-size="8.7" text-anchor="end" fill="#000" font-weight="400" font-family='"Liberation Sans","Noto Sans CJK SC",sans-serif'>760.0</text>
<line x1="35.00" y1="1172.50" x2="39.50" y2="1172.50" stroke="#868686" stroke-width="1"/>
<text x="32.20" y="1175.10" font-size="8.7" text-anchor="end" fill="#000" font-weight="400" font-family='"Liberation Sans","Noto Sans CJK SC",sans-serif'>740.0</text>
<line x1="35.00" y1="1184.50" x2="39.50" y2="1184.50" stroke="#868686" stroke-width="1"/>
<text x="32.20" y="1187.50" font-size="8.7" text-anchor="end" fill="#000" font-weight="400" font-family='"Liberation Sans","Noto Sans CJK SC",sans-serif'>720.0</text>
<line x1="35.00" y1="1196.50" x2="39.50" y2="1196.50" stroke="#868686" stroke-width="1"/>
<text x="32.20" y="1199.90" font-size="8.7" text-anchor="end" fill="#000" font-weight="400" font-family='"Liberation Sans","Noto Sans CJK SC",sans-serif'>700.0</text>
<line x1="35.00" y1="1209.50" x2="39.50" y2="1209.50" stroke="#868686" stroke-width="1"/>
<text x="32.20" y="1212.30" font-size="8.7" text-anchor="end" fill="#000" font-weight="400" font-family='"Liberation Sans","Noto Sans CJK SC",sans-serif'>680.0</text>
<line x1="35.00" y1="1221.50" x2="39.50" y2="1221.50" stroke="#868686" stroke-width="1"/>
<text x="32.20" y="1224.70" font-size="8.7" text-anchor="end" fill="#000" font-weight="400" font-family='"Liberation Sans","Noto Sans CJK SC",sans-serif'>660.0</text>
<line x1="35.00" y1="1234.50" x2="39.50" y2="1234.50" stroke="#868686" stroke-width="1"/>
<text x="32.20" y="1237.10" font-size="8.7" text-anchor="end" fill="#000" font-weight="400" font-family='"Liberation Sans","Noto Sans CJK SC",sans-serif'>640.0</text>
<line x1="35.00" y1="1246.50" x2="39.50" y2="1246.50" stroke="#868686" stroke-width="1"/>
<text x="32.20" y="1249.50" font-size="8.7" text-anchor="end" fill="#000" font-weight="400" font-family='"Liberation Sans","Noto Sans CJK SC",sans-serif'>620.0</text>
<line x1="35.00" y1="1258.50" x2="39.50" y2="1258.50" stroke="#868686" stroke-width="1"/>
<text x="32.20" y="1261.90" font-size="8.7" text-anchor="end" fill="#000" font-weight="400" font-family='"Liberation Sans","Noto Sans CJK SC",sans-serif'>600.0</text>
<line x1="35.00" y1="1271.50" x2="39.50" y2="1271.50" stroke="#868686" stroke-width="1"/>
<text x="32.20" y="1274.30" font-size="8.7" text-anchor="end" fill="#000" font-weight="400" font-family='"Liberation Sans","Noto Sans CJK SC",sans-serif'>580.0</text>
<line x1="35.00" y1="1283.50" x2="39.50" y2="1283.50" stroke="#868686" stroke-width="1"/>
<text x="32.20" y="1286.70" font-size="8.7" text-anchor="end" fill="#000" font-weight="400" font-family='"Liberation Sans","Noto Sans CJK SC",sans-serif'>560.0</text>
<line x1="35.00" y1="1296.50" x2="39.50" y2="1296.50" stroke="#868686" stroke-width="1"/>
<text x="32.20" y="1299.10" font-size="8.7" text-anchor="end" fill="#000" font-weight="400" font-family='"Liberation Sans","Noto Sans CJK SC",sans-serif'>540.0</text>
<line x1="35.00" y1="1308.50" x2="39.50" y2="1308.50" stroke="#868686" stroke-width="1"/>
<text x="32.20" y="1311.50" font-size="8.7" text-anchor="end" fill="#000" font-weight="400" font-family='"Liberation Sans","Noto Sans CJK SC",sans-serif'>520.0</text>
<line x1="35.00" y1="1320.50" x2="39.50" y2="1320.50" stroke="#868686" stroke-width="1"/>
<text x="32.20" y="1323.90" font-size="8.7" text-anchor="end" fill="#000" font-weight="400" font-family='"Liberation Sans","Noto Sans CJK SC",sans-serif'>500.0</text>
<line x1="35.00" y1="1333.50" x2="39.50" y2="1333.50" stroke="#868686" stroke-width="1"/>
<text x="32.20" y="1336.30" font-size="8.7" text-anchor="end" fill="#000" font-weight="400" font-family='"Liberation Sans","Noto Sans CJK SC",sans-serif'>480.0</text>
<line x1="35.00" y1="1345.50" x2="39.50" y2="1345.50" stroke="#868686" stroke-width="1"/>
<text x="32.20" y="1348.70" font-size="8.7" text-anchor="end" fill="#000" font-weight="400" font-family='"Liberation Sans","Noto Sans CJK SC",sans-serif'>460.0</text>
<line x1="35.00" y1="1358.50" x2="39.50" y2="1358.50" stroke="#868686" stroke-width="1"/>
<text x="32.20" y="1361.10" font-size="8.7" text-anchor="end" fill="#000" font-weight="400" font-family='"Liberation Sans","Noto Sans CJK SC",sans-serif'>440.0</text>
<line x1="35.00" y1="1370.50" x2="39.50" y2="1370.50" stroke="#868686" stroke-width="1"/>
<text x="32.20" y="1373.50" font-size="8.7" text-anchor="end" fill="#000" font-weight="400" font-family='"Liberation Sans","Noto Sans CJK SC",sans-serif'>420.0</text>
<line x1="35.00" y1="1382.50" x2="39.50" y2="1382.50" stroke="#868686" stroke-width="1"/>
<text x="32.20" y="1385.90" font-size="8.7" text-anchor="end" fill="#000" font-weight="400" font-family='"Liberation Sans","Noto Sans CJK SC",sans-serif'>400.0</text>
<line x1="35.00" y1="1395.50" x2="39.50" y2="1395.50" stroke="#868686" stroke-width="1"/>
<text x="32.20" y="1398.30" font-size="8.7" text-anchor="end" fill="#000" font-weight="400" font-family='"Liberation Sans","Noto Sans CJK SC",sans-serif'>380.0</text>
<line x1="35.00" y1="1407.50" x2="39.50" y2="1407.50" stroke="#868686" stroke-width="1"/>
<text x="32.20" y="1410.70" font-size="8.7" text-anchor="end" fill="#000" font-weight="400" font-family='"Liberation Sans","Noto Sans CJK SC",sans-serif'>360.0</text>
<line x1="35.00" y1="1420.50" x2="39.50" y2="1420.50" stroke="#868686" stroke-width="1"/>
<text x="32.20" y="1423.10" font-size="8.7" text-anchor="end" fill="#000" font-weight="400" font-family='"Liberation Sans","Noto Sans CJK SC",sans-serif'>340.0</text>
<line x1="35.00" y1="1432.50" x2="39.50" y2="1432.50" stroke="#868686" stroke-width="1"/>
<text x="32.20" y="1435.50" font-size="8.7" text-anchor="end" fill="#000" font-weight="400" font-family='"Liberation Sans","Noto Sans CJK SC",sans-serif'>320.0</text>
<line x1="642.50" y1="1122.50" x2="646.00" y2="1122.50" stroke="#868686" stroke-width="1"/>
<text x="647.60" y="1125.20" font-size="8.7" text-anchor="start" fill="#000" font-weight="400" font-family='"Liberation Sans","Noto Sans CJK SC",sans-serif'>840.0</text>
<line x1="642.50" y1="1134.50" x2="646.00" y2="1134.50" stroke="#868686" stroke-width="1"/>
<text x="647.60" y="1137.13" font-size="8.7" text-anchor="start" fill="#000" font-weight="400" font-family='"Liberation Sans","Noto Sans CJK SC",sans-serif'>820.0</text>
<line x1="642.50" y1="1146.50" x2="646.00" y2="1146.50" stroke="#868686" stroke-width="1"/>
<text x="647.60" y="1149.07" font-size="8.7" text-anchor="start" fill="#000" font-weight="400" font-family='"Liberation Sans","Noto Sans CJK SC",sans-serif'>800.0</text>
<line x1="642.50" y1="1158.50" x2="646.00" y2="1158.50" stroke="#868686" stroke-width="1"/>
<text x="647.60" y="1161.00" font-size="8.7" text-anchor="start" fill="#000" font-weight="400" font-family='"Liberation Sans","Noto Sans CJK SC",sans-serif'>780.0</text>
<line x1="642.50" y1="1169.50" x2="646.00" y2="1169.50" stroke="#868686" stroke-width="1"/>
<text x="647.60" y="1172.94" font-size="8.7" text-anchor="start" fill="#000" font-weight="400" font-family='"Liberation Sans","Noto Sans CJK SC",sans-serif'>760.0</text>
<line x1="642.50" y1="1181.50" x2="646.00" y2="1181.50" stroke="#868686" stroke-width="1"/>
<text x="647.60" y="1184.87" font-size="8.7" text-anchor="start" fill="#000" font-weight="400" font-family='"Liberation Sans","Noto Sans CJK SC",sans-serif'>740.0</text>
<line x1="642.50" y1="1193.50" x2="646.00" y2="1193.50" stroke="#868686" stroke-width="1"/>
<text x="647.60" y="1196.81" font-size="8.7" text-anchor="start" fill="#000" font-weight="400" font-family='"Liberation Sans","Noto Sans CJK SC",sans-serif'>720.0</text>
<line x1="642.50" y1="1205.50" x2="646.00" y2="1205.50" stroke="#868686" stroke-width="1"/>
<text x="647.60" y="1208.74" font-size="8.7" text-anchor="start" fill="#000" font-weight="400" font-family='"Liberation Sans","Noto Sans CJK SC",sans-serif'>700.0</text>
<line x1="642.50" y1="1217.50" x2="646.00" y2="1217.50" stroke="#868686" stroke-width="1"/>
<text x="647.60" y="1220.68" font-size="8.7" text-anchor="start" fill="#000" font-weight="400" font-family='"Liberation Sans","Noto Sans CJK SC",sans-serif'>680.0</text>
<line x1="642.50" y1="1229.50" x2="646.00" y2="1229.50" stroke="#868686" stroke-width="1"/>
<text x="647.60" y="1232.61" font-size="8.7" text-anchor="start" fill="#000" font-weight="400" font-family='"Liberation Sans","Noto Sans CJK SC",sans-serif'>660.0</text>
<line x1="642.50" y1="1241.50" x2="646.00" y2="1241.50" stroke="#868686" stroke-width="1"/>
<text x="647.60" y="1244.55" font-size="8.7" text-anchor="start" fill="#000" font-weight="400" font-family='"Liberation Sans","Noto Sans CJK SC",sans-serif'>640.0</text>
<line x1="642.50" y1="1253.50" x2="646.00" y2="1253.50" stroke="#868686" stroke-width="1"/>
<text x="647.60" y="1256.48" font-size="8.7" text-anchor="start" fill="#000" font-weight="400" font-family='"Liberation Sans","Noto Sans CJK SC",sans-serif'>620.0</text>
<line x1="642.50" y1="1265.50" x2="646.00" y2="1265.50" stroke="#868686" stroke-width="1"/>
<text x="647.60" y="1268.42" font-size="8.7" text-anchor="start" fill="#000" font-weight="400" font-family='"Liberation Sans","Noto Sans CJK SC",sans-serif'>600.0</text>
<line x1="642.50" y1="1277.50" x2="646.00" y2="1277.50" stroke="#868686" stroke-width="1"/>
<text x="647.60" y="1280.35" font-size="8.7" text-anchor="start" fill="#000" font-weight="400" font-family='"Liberation Sans","Noto Sans CJK SC",sans-serif'>580.0</text>
<line x1="642.50" y1="1289.50" x2="646.00" y2="1289.50" stroke="#868686" stroke-width="1"/>
<text x="647.60" y="1292.28" font-size="8.7" text-anchor="start" fill="#000" font-weight="400" font-family='"Liberation Sans","Noto Sans CJK SC",sans-serif'>560.0</text>
<line x1="642.50" y1="1301.50" x2="646.00" y2="1301.50" stroke="#868686" stroke-width="1"/>
<text x="647.60" y="1304.22" font-size="8.7" text-anchor="start" fill="#000" font-weight="400" font-family='"Liberation Sans","Noto Sans CJK SC",sans-serif'>540.0</text>
<line x1="642.50" y1="1313.50" x2="646.00" y2="1313.50" stroke="#868686" stroke-width="1"/>
<text x="647.60" y="1316.15" font-size="8.7" text-anchor="start" fill="#000" font-weight="400" font-family='"Liberation Sans","Noto Sans CJK SC",sans-serif'>520.0</text>
<line x1="642.50" y1="1325.50" x2="646.00" y2="1325.50" stroke="#868686" stroke-width="1"/>
<text x="647.60" y="1328.09" font-size="8.7" text-anchor="start" fill="#000" font-weight="400" font-family='"Liberation Sans","Noto Sans CJK SC",sans-serif'>500.0</text>
<line x1="642.50" y1="1337.50" x2="646.00" y2="1337.50" stroke="#868686" stroke-width="1"/>
<text x="647.60" y="1340.02" font-size="8.7" text-anchor="start" fill="#000" font-weight="400" font-family='"Liberation Sans","Noto Sans CJK SC",sans-serif'>480.0</text>
<line x1="642.50" y1="1348.50" x2="646.00" y2="1348.50" stroke="#868686" stroke-width="1"/>
<text x="647.60" y="1351.96" font-size="8.7" text-anchor="start" fill="#000" font-weight="400" font-family='"Liberation Sans","Noto Sans CJK SC",sans-serif'>460.0</text>
<line x1="642.50" y1="1360.50" x2="646.00" y2="1360.50" stroke="#868686" stroke-width="1"/>
<text x="647.60" y="1363.89" font-size="8.7" text-anchor="start" fill="#000" font-weight="400" font-family='"Liberation Sans","Noto Sans CJK SC",sans-serif'>440.0</text>
<line x1="642.50" y1="1372.50" x2="646.00" y2="1372.50" stroke="#868686" stroke-width="1"/>
<text x="647.60" y="1375.83" font-size="8.7" text-anchor="start" fill="#000" font-weight="400" font-family='"Liberation Sans","Noto Sans CJK SC",sans-serif'>420.0</text>
<line x1="642.50" y1="1384.50" x2="646.00" y2="1384.50" stroke="#868686" stroke-width="1"/>
<text x="647.60" y="1387.76" font-size="8.7" text-anchor="start" fill="#000" font-weight="400" font-family='"Liberation Sans","Noto Sans CJK SC",sans-serif'>400.0</text>
<line x1="642.50" y1="1396.50" x2="646.00" y2="1396.50" stroke="#868686" stroke-width="1"/>
<text x="647.60" y="1399.70" font-size="8.7" text-anchor="start" fill="#000" font-weight="400" font-family='"Liberation Sans","Noto Sans CJK SC",sans-serif'>380.0</text>
<line x1="642.50" y1="1408.50" x2="646.00" y2="1408.50" stroke="#868686" stroke-width="1"/>
<text x="647.60" y="1411.63" font-size="8.7" text-anchor="start" fill="#000" font-weight="400" font-family='"Liberation Sans","Noto Sans CJK SC",sans-serif'>360.0</text>
<line x1="642.50" y1="1420.50" x2="646.00" y2="1420.50" stroke="#868686" stroke-width="1"/>
<text x="647.60" y="1423.57" font-size="8.7" text-anchor="start" fill="#000" font-weight="400" font-family='"Liberation Sans","Noto Sans CJK SC",sans-serif'>340.0</text>
<line x1="642.50" y1="1432.50" x2="646.00" y2="1432.50" stroke="#868686" stroke-width="1"/>
<text x="647.60" y="1435.50" font-size="8.7" text-anchor="start" fill="#000" font-weight="400" font-family='"Liberation Sans","Noto Sans CJK SC",sans-serif'>320.0</text>
<text x="624.40" y="1137.20" font-size="10.6" text-anchor="middle" fill="#000" font-weight="400" font-family='"Liberation Sans","Noto Sans CJK SC",sans-serif'>点</text>
<line x1="39.00" y1="1432.50" x2="643.00" y2="1432.50" stroke="#868686" stroke-width="1"/>
<line x1="39.50" y1="1432.50" x2="39.50" y2="1492.60" stroke="#868686" stroke-width="1"/>
<line x1="59.50" y1="1432.50" x2="59.50" y2="1462.60" stroke="#868686" stroke-width="1"/>
<line x1="79.50" y1="1432.50" x2="79.50" y2="1462.60" stroke="#868686" stroke-width="1"/>
<line x1="99.50" y1="1432.50" x2="99.50" y2="1462.60" stroke="#868686" stroke-width="1"/>
<line x1="119.50" y1="1432.50" x2="119.50" y2="1462.60" stroke="#868686" stroke-width="1"/>
<line x1="140.50" y1="1432.50" x2="140.50" y2="1462.60" stroke="#868686" stroke-width="1"/>
<line x1="160.50" y1="1432.50" x2="160.50" y2="1462.60" stroke="#868686" stroke-width="1"/>
<line x1="180.50" y1="1432.50" x2="180.50" y2="1462.60" stroke="#868686" stroke-width="1"/>
<line x1="200.50" y1="1432.50" x2="200.50" y2="1462.60" stroke="#868686" stroke-width="1"/>
<line x1="220.50" y1="1432.50" x2="220.50" y2="1462.60" stroke="#868686" stroke-width="1"/>
<line x1="240.50" y1="1432.50" x2="240.50" y2="1462.60" stroke="#868686" stroke-width="1"/>
<line x1="260.50" y1="1432.50" x2="260.50" y2="1462.60" stroke="#868686" stroke-width="1"/>
<line x1="280.50" y1="1432.50" x2="280.50" y2="1492.60" stroke="#868686" stroke-width="1"/>
<line x1="300.50" y1="1432.50" x2="300.50" y2="1462.60" stroke="#868686" stroke-width="1"/>
<line x1="320.50" y1="1432.50" x2="320.50" y2="1462.60" stroke="#868686" stroke-width="1"/>
<line x1="341.50" y1="1432.50" x2="341.50" y2="1462.60" stroke="#868686" stroke-width="1"/>
<line x1="361.50" y1="1432.50" x2="361.50" y2="1462.60" stroke="#868686" stroke-width="1"/>
<line x1="381.50" y1="1432.50" x2="381.50" y2="1462.60" stroke="#868686" stroke-width="1"/>
<line x1="401.50" y1="1432.50" x2="401.50" y2="1462.60" stroke="#868686" stroke-width="1"/>
<line x1="421.50" y1="1432.50" x2="421.50" y2="1462.60" stroke="#868686" stroke-width="1"/>
<line x1="441.50" y1="1432.50" x2="441.50" y2="1462.60" stroke="#868686" stroke-width="1"/>
<line x1="461.50" y1="1432.50" x2="461.50" y2="1462.60" stroke="#868686" stroke-width="1"/>
<line x1="481.50" y1="1432.50" x2="481.50" y2="1462.60" stroke="#868686" stroke-width="1"/>
<line x1="501.50" y1="1432.50" x2="501.50" y2="1462.60" stroke="#868686" stroke-width="1"/>
<line x1="521.50" y1="1432.50" x2="521.50" y2="1462.60" stroke="#868686" stroke-width="1"/>
<line x1="542.50" y1="1432.50" x2="542.50" y2="1462.60" stroke="#868686" stroke-width="1"/>
<line x1="562.50" y1="1432.50" x2="562.50" y2="1462.60" stroke="#868686" stroke-width="1"/>
<line x1="582.50" y1="1432.50" x2="582.50" y2="1462.60" stroke="#868686" stroke-width="1"/>
<line x1="602.50" y1="1432.50" x2="602.50" y2="1462.60" stroke="#868686" stroke-width="1"/>
<line x1="622.50" y1="1432.50" x2="622.50" y2="1462.60" stroke="#868686" stroke-width="1"/>
<line x1="642.50" y1="1432.50" x2="642.50" y2="1492.60" stroke="#868686" stroke-width="1"/>
<text transform="translate(53.05,1438.00) rotate(-90)" font-size="9" text-anchor="end" fill="#1a1a1a" font-weight="300" font-family='"Liberation Sans","Noto Sans CJK SC",sans-serif'>1月末</text>
<text transform="translate(73.15,1438.00) rotate(-90)" font-size="9" text-anchor="end" fill="#1a1a1a" font-weight="300" font-family='"Liberation Sans","Noto Sans CJK SC",sans-serif'>2月末</text>
<text transform="translate(93.25,1438.00) rotate(-90)" font-size="9" text-anchor="end" fill="#1a1a1a" font-weight="300" font-family='"Liberation Sans","Noto Sans CJK SC",sans-serif'>3月末</text>
<text transform="translate(113.35,1438.00) rotate(-90)" font-size="9" text-anchor="end" fill="#1a1a1a" font-weight="300" font-family='"Liberation Sans","Noto Sans CJK SC",sans-serif'>4月末</text>
<text transform="translate(133.45,1438.00) rotate(-90)" font-size="9" text-anchor="end" fill="#1a1a1a" font-weight="300" font-family='"Liberation Sans","Noto Sans CJK SC",sans-serif'>5月末</text>
<text transform="translate(153.55,1438.00) rotate(-90)" font-size="9" text-anchor="end" fill="#1a1a1a" font-weight="300" font-family='"Liberation Sans","Noto Sans CJK SC",sans-serif'>6月末</text>
<text transform="translate(173.65,1438.00) rotate(-90)" font-size="9" text-anchor="end" fill="#1a1a1a" font-weight="300" font-family='"Liberation Sans","Noto Sans CJK SC",sans-serif'>7月末</text>
<text transform="translate(193.75,1438.00) rotate(-90)" font-size="9" text-anchor="end" fill="#1a1a1a" font-weight="300" font-family='"Liberation Sans","Noto Sans CJK SC",sans-serif'>8月末</text>
<text transform="translate(213.85,1438.00) rotate(-90)" font-size="9" text-anchor="end" fill="#1a1a1a" font-weight="300" font-family='"Liberation Sans","Noto Sans CJK SC",sans-serif'>9月末</text>
<text transform="translate(233.95,1438.00) rotate(-90)" font-size="9" text-anchor="end" fill="#1a1a1a" font-weight="300" font-family='"Liberation Sans","Noto Sans CJK SC",sans-serif'>10月末</text>
<text transform="translate(254.05,1438.00) rotate(-90)" font-size="9" text-anchor="end" fill="#1a1a1a" font-weight="300" font-family='"Liberation Sans","Noto Sans CJK SC",sans-serif'>11月末</text>
<text transform="translate(274.15,1438.00) rotate(-90)" font-size="9" text-anchor="end" fill="#1a1a1a" font-weight="300" font-family='"Liberation Sans","Noto Sans CJK SC",sans-serif'>12月末</text>
<text transform="translate(294.25,1438.00) rotate(-90)" font-size="9" text-anchor="end" fill="#1a1a1a" font-weight="300" font-family='"Liberation Sans","Noto Sans CJK SC",sans-serif'>1月末</text>
<text transform="translate(314.35,1438.00) rotate(-90)" font-size="9" text-anchor="end" fill="#1a1a1a" font-weight="300" font-family='"Liberation Sans","Noto Sans CJK SC",sans-serif'>2月末</text>
<text transform="translate(334.45,1438.00) rotate(-90)" font-size="9" text-anchor="end" fill="#1a1a1a" font-weight="300" font-family='"Liberation Sans","Noto Sans CJK SC",sans-serif'>3月末</text>
<text transform="translate(354.55,1438.00) rotate(-90)" font-size="9" text-anchor="end" fill="#1a1a1a" font-weight="300" font-family='"Liberation Sans","Noto Sans CJK SC",sans-serif'>4月末</text>
<text transform="translate(374.65,1438.00) rotate(-90)" font-size="9" text-anchor="end" fill="#1a1a1a" font-weight="300" font-family='"Liberation Sans","Noto Sans CJK SC",sans-serif'>5月末</text>
<text transform="translate(394.75,1438.00) rotate(-90)" font-size="9" text-anchor="end" fill="#1a1a1a" font-weight="300" font-family='"Liberation Sans","Noto Sans CJK SC",sans-serif'>6月末</text>
<text transform="translate(414.85,1438.00) rotate(-90)" font-size="9" text-anchor="end" fill="#1a1a1a" font-weight="300" font-family='"Liberation Sans","Noto Sans CJK SC",sans-serif'>7月1日</text>
<text transform="translate(434.95,1438.00) rotate(-90)" font-size="9" text-anchor="end" fill="#1a1a1a" font-weight="300" font-family='"Liberation Sans","Noto Sans CJK SC",sans-serif'>7月4日</text>
<text transform="translate(455.05,1438.00) rotate(-90)" font-size="9" text-anchor="end" fill="#1a1a1a" font-weight="300" font-family='"Liberation Sans","Noto Sans CJK SC",sans-serif'>7月5日</text>
<text transform="translate(475.15,1438.00) rotate(-90)" font-size="9" text-anchor="end" fill="#1a1a1a" font-weight="300" font-family='"Liberation Sans","Noto Sans CJK SC",sans-serif'>7月6日</text>
<text transform="translate(495.25,1438.00) rotate(-90)" font-size="9" text-anchor="end" fill="#1a1a1a" font-weight="300" font-family='"Liberation Sans","Noto Sans CJK SC",sans-serif'>7月7日</text>
<text transform="translate(515.35,1438.00) rotate(-90)" font-size="9" text-anchor="end" fill="#1a1a1a" font-weight="300" font-family='"Liberation Sans","Noto Sans CJK SC",sans-serif'>7月8日</text>
<text transform="translate(535.45,1438.00) rotate(-90)" font-size="9" text-anchor="end" fill="#1a1a1a" font-weight="300" font-family='"Liberation Sans","Noto Sans CJK SC",sans-serif'>7月11日</text>
<text transform="translate(555.55,1438.00) rotate(-90)" font-size="9" text-anchor="end" fill="#1a1a1a" font-weight="300" font-family='"Liberation Sans","Noto Sans CJK SC",sans-serif'>7月12日</text>
<text transform="translate(575.65,1438.00) rotate(-90)" font-size="9" text-anchor="end" fill="#1a1a1a" font-weight="300" font-family='"Liberation Sans","Noto Sans CJK SC",sans-serif'>7月13日</text>
<text transform="translate(595.75,1438.00) rotate(-90)" font-size="9" text-anchor="end" fill="#1a1a1a" font-weight="300" font-family='"Liberation Sans","Noto Sans CJK SC",sans-serif'>7月14日</text>
<text transform="translate(615.85,1438.00) rotate(-90)" font-size="9" text-anchor="end" fill="#1a1a1a" font-weight="300" font-family='"Liberation Sans","Noto Sans CJK SC",sans-serif'>7月15日</text>
<text transform="translate(635.95,1438.00) rotate(-90)" font-size="9" text-anchor="end" fill="#1a1a1a" font-weight="300" font-family='"Liberation Sans","Noto Sans CJK SC",sans-serif'>7月18日</text>
<text x="160.00" y="1488.50" font-size="9" text-anchor="middle" fill="#000" font-weight="400" font-family='"Liberation Sans","Noto Sans CJK SC",sans-serif'>2021年</text>
<text x="460.00" y="1487.80" font-size="9" text-anchor="middle" fill="#000" font-weight="400" font-family='"Liberation Sans","Noto Sans CJK SC",sans-serif'>2022年</text>
<polyline points="48.86,1281.90 68.97,1246.80 89.08,1267.20 109.20,1217.60 129.31,1194.10 149.42,1152.30 169.54,1224.20 189.65,1284.00 209.76,1357.90 229.88,1380.50 249.99,1399.00 270.10,1360.80 290.22,1304.10 310.33,1322.20 330.44,1280.10 350.56,1310.90 370.67,1321.80 390.78,1357.30 410.90,1366.70 431.01,1376.60 451.12,1371.80 471.24,1375.20 491.35,1370.60 511.46,1371.30 531.58,1377.90 551.69,1387.80 571.80,1381.00 591.92,1397.50 612.03,1407.50 632.14,1400.00" fill="none" stroke="#4A7EBB" stroke-width="2.25" stroke-linejoin="round" stroke-linecap="round"/>
<path d="M48.86 1278.40L52.36 1281.90L48.86 1285.40L45.36 1281.90Z" fill="#4A7EBB"/>
<path d="M68.97 1243.30L72.47 1246.80L68.97 1250.30L65.47 1246.80Z" fill="#4A7EBB"/>
<path d="M89.08 1263.70L92.58 1267.20L89.08 1270.70L85.58 1267.20Z" fill="#4A7EBB"/>
<path d="M109.20 1214.10L112.70 1217.60L109.20 1221.10L105.70 1217.60Z" fill="#4A7EBB"/>
<path d="M129.31 1190.60L132.81 1194.10L129.31 1197.60L125.81 1194.10Z" fill="#4A7EBB"/>
<path d="M149.42 1148.80L152.92 1152.30L149.42 1155.80L145.92 1152.30Z" fill="#4A7EBB"/>
<path d="M169.54 1220.70L173.04 1224.20L169.54 1227.70L166.04 1224.20Z" fill="#4A7EBB"/>
<path d="M189.65 1280.50L193.15 1284.00L189.65 1287.50L186.15 1284.00Z" fill="#4A7EBB"/>
<path d="M209.76 1354.40L213.26 1357.90L209.76 1361.40L206.26 1357.90Z" fill="#4A7EBB"/>
<path d="M229.88 1377.00L233.38 1380.50L229.88 1384.00L226.38 1380.50Z" fill="#4A7EBB"/>
<path d="M249.99 1395.50L253.49 1399.00L249.99 1402.50L246.49 1399.00Z" fill="#4A7EBB"/>
<path d="M270.10 1357.30L273.60 1360.80L270.10 1364.30L266.60 1360.80Z" fill="#4A7EBB"/>
<path d="M290.22 1300.60L293.72 1304.10L290.22 1307.60L286.72 1304.10Z" fill="#4A7EBB"/>
<path d="M310.33 1318.70L313.83 1322.20L310.33 1325.70L306.83 1322.20Z" fill="#4A7EBB"/>
<path d="M330.44 1276.60L333.94 1280.10L330.44 1283.60L326.94 1280.10Z" fill="#4A7EBB"/>
<path d="M350.56 1307.40L354.06 1310.90L350.56 1314.40L347.06 1310.90Z" fill="#4A7EBB"/>
<path d="M370.67 1318.30L374.17 1321.80L370.67 1325.30L367.17 1321.80Z" fill="#4A7EBB"/>
<path d="M390.78 1353.80L394.28 1357.30L390.78 1360.80L387.28 1357.30Z" fill="#4A7EBB"/>
<path d="M410.90 1363.20L414.40 1366.70L410.90 1370.20L407.40 1366.70Z" fill="#4A7EBB"/>
<path d="M431.01 1373.10L434.51 1376.60L431.01 1380.10L427.51 1376.60Z" fill="#4A7EBB"/>
<path d="M451.12 1368.30L454.62 1371.80L451.12 1375.30L447.62 1371.80Z" fill="#4A7EBB"/>
<path d="M471.24 1371.70L474.74 1375.20L471.24 1378.70L467.74 1375.20Z" fill="#4A7EBB"/>
<path d="M491.35 1367.10L494.85 1370.60L491.35 1374.10L487.85 1370.60Z" fill="#4A7EBB"/>
<path d="M511.46 1367.80L514.96 1371.30L511.46 1374.80L507.96 1371.30Z" fill="#4A7EBB"/>
<path d="M531.58 1374.40L535.08 1377.90L531.58 1381.40L528.08 1377.90Z" fill="#4A7EBB"/>
<path d="M551.69 1384.30L555.19 1387.80L551.69 1391.30L548.19 1387.80Z" fill="#4A7EBB"/>
<path d="M571.80 1377.50L575.30 1381.00L571.80 1384.50L568.30 1381.00Z" fill="#4A7EBB"/>
<path d="M591.92 1394.00L595.42 1397.50L591.92 1401.00L588.42 1397.50Z" fill="#4A7EBB"/>
<path d="M612.03 1404.00L615.53 1407.50L612.03 1411.00L608.53 1407.50Z" fill="#4A7EBB"/>
<path d="M632.14 1396.50L635.64 1400.00L632.14 1403.50L628.64 1400.00Z" fill="#4A7EBB"/>
<polyline points="48.86,1335.20 68.97,1327.20 89.08,1331.00 109.20,1305.70 129.31,1276.10 149.42,1263.20 169.54,1254.20 189.65,1306.60 209.76,1355.70 229.88,1364.10 249.99,1405.60 270.10,1384.90 290.22,1376.30 310.33,1373.70 330.44,1352.00 350.56,1346.10 370.67,1358.60 390.78,1377.60 410.90,1376.60 431.01,1378.30 451.12,1382.70 471.24,1387.60 491.35,1387.70 511.46,1388.40 531.58,1388.80 551.69,1391.20 571.80,1393.80 591.92,1394.00 612.03,1392.20 632.14,1398.80" fill="none" stroke="#BE4B48" stroke-width="2.25" stroke-linejoin="round" stroke-linecap="round"/>
<rect x="45.36" y="1331.70" width="7.00" height="7.00" fill="#BE4B48"/>
<rect x="65.47" y="1323.70" width="7.00" height="7.00" fill="#BE4B48"/>
<rect x="85.58" y="1327.50" width="7.00" height="7.00" fill="#BE4B48"/>
<rect x="105.70" y="1302.20" width="7.00" height="7.00" fill="#BE4B48"/>
<rect x="125.81" y="1272.60" width="7.00" height="7.00" fill="#BE4B48"/>
<rect x="145.92" y="1259.70" width="7.00" height="7.00" fill="#BE4B48"/>
<rect x="166.04" y="1250.70" width="7.00" height="7.00" fill="#BE4B48"/>
<rect x="186.15" y="1303.10" width="7.00" height="7.00" fill="#BE4B48"/>
<rect x="206.26" y="1352.20" width="7.00" height="7.00" fill="#BE4B48"/>
<rect x="226.38" y="1360.60" width="7.00" height="7.00" fill="#BE4B48"/>
<rect x="246.49" y="1402.10" width="7.00" height="7.00" fill="#BE4B48"/>
<rect x="266.60" y="1381.40" width="7.00" height="7.00" fill="#BE4B48"/>
<rect x="286.72" y="1372.80" width="7.00" height="7.00" fill="#BE4B48"/>
<rect x="306.83" y="1370.20" width="7.00" height="7.00" fill="#BE4B48"/>
<rect x="326.94" y="1348.50" width="7.00" height="7.00" fill="#BE4B48"/>
<rect x="347.06" y="1342.60" width="7.00" height="7.00" fill="#BE4B48"/>
<rect x="367.17" y="1355.10" width="7.00" height="7.00" fill="#BE4B48"/>
<rect x="387.28" y="1374.10" width="7.00" height="7.00" fill="#BE4B48"/>
<rect x="407.40" y="1373.10" width="7.00" height="7.00" fill="#BE4B48"/>
<rect x="427.51" y="1374.80" width="7.00" height="7.00" fill="#BE4B48"/>
<rect x="447.62" y="1379.20" width="7.00" height="7.00" fill="#BE4B48"/>
<rect x="467.74" y="1384.10" width="7.00" height="7.00" fill="#BE4B48"/>
<rect x="487.85" y="1384.20" width="7.00" height="7.00" fill="#BE4B48"/>
<rect x="507.96" y="1384.90" width="7.00" height="7.00" fill="#BE4B48"/>
<rect x="528.08" y="1385.30" width="7.00" height="7.00" fill="#BE4B48"/>
<rect x="548.19" y="1387.70" width="7.00" height="7.00" fill="#BE4B48"/>
<rect x="568.30" y="1390.30" width="7.00" height="7.00" fill="#BE4B48"/>
<rect x="588.42" y="1390.50" width="7.00" height="7.00" fill="#BE4B48"/>
<rect x="608.53" y="1388.70" width="7.00" height="7.00" fill="#BE4B48"/>
<rect x="628.64" y="1395.30" width="7.00" height="7.00" fill="#BE4B48"/>
<polyline points="48.86,1278.00 68.97,1239.50 89.08,1261.90 109.20,1210.40 129.31,1188.40 149.42,1142.90 169.54,1227.50 189.65,1287.00 209.76,1361.20 229.88,1386.00 249.99,1399.00 270.10,1360.60 290.22,1295.90 310.33,1317.40 330.44,1273.00 350.56,1309.20 370.67,1320.70 390.78,1356.50 410.90,1368.20 431.01,1379.20 451.12,1373.30 471.24,1375.60 491.35,1370.60 511.46,1371.70 531.58,1378.90 551.69,1390.20 571.80,1381.40 591.92,1399.20 612.03,1412.50 632.14,1401.50" fill="none" stroke="#98B954" stroke-width="2.25" stroke-linejoin="round" stroke-linecap="round"/>
<path d="M48.86 1273.38L53.06 1281.15L44.66 1281.15Z" fill="#98B954"/>
<path d="M68.97 1234.88L73.17 1242.65L64.77 1242.65Z" fill="#98B954"/>
<path d="M89.08 1257.28L93.28 1265.05L84.88 1265.05Z" fill="#98B954"/>
<path d="M109.20 1205.78L113.40 1213.55L105.00 1213.55Z" fill="#98B954"/>
<path d="M129.31 1183.78L133.51 1191.55L125.11 1191.55Z" fill="#98B954"/>
<path d="M149.42 1138.28L153.62 1146.05L145.22 1146.05Z" fill="#98B954"/>
<path d="M169.54 1222.88L173.74 1230.65L165.34 1230.65Z" fill="#98B954"/>
<path d="M189.65 1282.38L193.85 1290.15L185.45 1290.15Z" fill="#98B954"/>
<path d="M209.76 1356.58L213.96 1364.35L205.56 1364.35Z" fill="#98B954"/>
<path d="M229.88 1381.38L234.08 1389.15L225.68 1389.15Z" fill="#98B954"/>
<path d="M249.99 1394.38L254.19 1402.15L245.79 1402.15Z" fill="#98B954"/>
<path d="M270.10 1355.98L274.30 1363.75L265.90 1363.75Z" fill="#98B954"/>
<path d="M290.22 1291.28L294.42 1299.05L286.02 1299.05Z" fill="#98B954"/>
<path d="M310.33 1312.78L314.53 1320.55L306.13 1320.55Z" fill="#98B954"/>
<path d="M330.44 1268.38L334.64 1276.15L326.24 1276.15Z" fill="#98B954"/>
<path d="M350.56 1304.58L354.76 1312.35L346.36 1312.35Z" fill="#98B954"/>
<path d="M370.67 1316.08L374.87 1323.85L366.47 1323.85Z" fill="#98B954"/>
<path d="M390.78 1351.88L394.98 1359.65L386.58 1359.65Z" fill="#98B954"/>
<path d="M410.90 1363.58L415.10 1371.35L406.70 1371.35Z" fill="#98B954"/>
<path d="M431.01 1374.58L435.21 1382.35L426.81 1382.35Z" fill="#98B954"/>
<path d="M451.12 1368.68L455.32 1376.45L446.92 1376.45Z" fill="#98B954"/>
<path d="M471.24 1370.98L475.44 1378.75L467.04 1378.75Z" fill="#98B954"/>
<path d="M491.35 1365.98L495.55 1373.75L487.15 1373.75Z" fill="#98B954"/>
<path d="M511.46 1367.08L515.66 1374.85L507.26 1374.85Z" fill="#98B954"/>
<path d="M531.58 1374.28L535.78 1382.05L527.38 1382.05Z" fill="#98B954"/>
<path d="M551.69 1385.58L555.89 1393.35L547.49 1393.35Z" fill="#98B954"/>
<path d="M571.80 1376.78L576.00 1384.55L567.60 1384.55Z" fill="#98B954"/>
<path d="M591.92 1394.58L596.12 1402.35L587.72 1402.35Z" fill="#98B954"/>
<path d="M612.03 1407.88L616.23 1415.65L607.83 1415.65Z" fill="#98B954"/>
<path d="M632.14 1396.88L636.34 1404.65L627.94 1404.65Z" fill="#98B954"/>
<line x1="163.20" y1="1116.40" x2="182.90" y2="1116.40" stroke="#4A7EBB" stroke-width="2.25"/>
<path d="M173.00 1112.90L176.50 1116.40L173.00 1119.90L169.50 1116.40Z" fill="#4A7EBB"/>
<text x="185.00" y="1120.20" font-size="9.3" text-anchor="start" fill="#262626" font-weight="300" font-family='"Liberation Sans","Noto Sans CJK SC",sans-serif'>CIOPI中国铁矿石价格指数</text>
<line x1="318.90" y1="1116.40" x2="338.60" y2="1116.40" stroke="#BE4B48" stroke-width="2.25"/>
<rect x="325.20" y="1112.90" width="7.00" height="7.00" fill="#BE4B48"/>
<text x="341.70" y="1120.20" font-size="9.3" text-anchor="start" fill="#262626" font-weight="300" font-family='"Liberation Sans","Noto Sans CJK SC",sans-serif'>国产铁矿石价格指数</text>
<line x1="453.00" y1="1116.40" x2="473.00" y2="1116.40" stroke="#98B954" stroke-width="2.25"/>
<path d="M463.00 1111.78L467.20 1119.55L458.80 1119.55Z" fill="#98B954"/>
<text x="476.00" y="1120.20" font-size="9.3" text-anchor="start" fill="#262626" font-weight="300" font-family='"Liberation Sans","Noto Sans CJK SC",sans-serif'>进口铁矿石价格指数</text>
<text x="47.50" y="1257.20" font-size="8.8" text-anchor="middle" fill="#7D9A3E" font-weight="400" font-family='"Liberation Sans","Noto Sans CJK SC",sans-serif'>578.71</text>
<text x="88.00" y="1243.20" font-size="8.8" text-anchor="middle" fill="#7D9A3E" font-weight="400" font-family='"Liberation Sans","Noto Sans CJK SC",sans-serif'>605.71</text>
<text x="172.00" y="1145.60" font-size="8.8" text-anchor="middle" fill="#7D9A3E" font-weight="400" font-family='"Liberation Sans","Noto Sans CJK SC",sans-serif'>805.44</text>
<text x="274.70" y="1282.00" font-size="8.8" text-anchor="middle" fill="#7D9A3E" font-weight="400" font-family='"Liberation Sans","Noto Sans CJK SC",sans-serif'>548.68</text>
<text x="248.20" y="1367.10" font-size="8.8" text-anchor="middle" fill="#7D9A3E" font-weight="400" font-family='"Liberation Sans","Noto Sans CJK SC",sans-serif'>375.63</text>
<text x="352.10" y="1299.10" font-size="8.8" text-anchor="middle" fill="#7D9A3E" font-weight="400" font-family='"Liberation Sans","Noto Sans CJK SC",sans-serif'>526.35</text>
<text x="388.00" y="1345.60" font-size="8.8" text-anchor="middle" fill="#7D9A3E" font-weight="400" font-family='"Liberation Sans","Noto Sans CJK SC",sans-serif'>447.07</text>
<text x="626.40" y="1424.60" font-size="8.8" text-anchor="middle" fill="#7D9A3E" font-weight="400" font-family='"Liberation Sans","Noto Sans CJK SC",sans-serif'>371.54</text>
<text x="172.00" y="1155.90" font-size="8.8" text-anchor="middle" fill="#1F7BD0" font-weight="400" font-family='"Liberation Sans","Noto Sans CJK SC",sans-serif'>771.62</text>
<text x="58.20" y="1302.20" font-size="8.8" text-anchor="middle" fill="#1F7BD0" font-weight="400" font-family='"Liberation Sans","Noto Sans CJK SC",sans-serif'>562.45</text>
<text x="99.00" y="1283.10" font-size="8.8" text-anchor="middle" fill="#1F7BD0" font-weight="400" font-family='"Liberation Sans","Noto Sans CJK SC",sans-serif'>586.23</text>
<text x="294.00" y="1329.60" font-size="8.8" text-anchor="middle" fill="#1F7BD0" font-weight="400" font-family='"Liberation Sans","Noto Sans CJK SC",sans-serif'>526.67</text>
<text x="249.40" y="1373.70" font-size="8.8" text-anchor="middle" fill="#1F7BD0" font-weight="400" font-family='"Liberation Sans","Noto Sans CJK SC",sans-serif'>373.59</text>
<text x="347.20" y="1328.50" font-size="8.8" text-anchor="middle" fill="#1F7BD0" font-weight="400" font-family='"Liberation Sans","Noto Sans CJK SC",sans-serif'>515.64</text>
<text x="389.40" y="1370.40" font-size="8.8" text-anchor="middle" fill="#1F7BD0" font-weight="400" font-family='"Liberation Sans","Noto Sans CJK SC",sans-serif'>440.88</text>
<text x="629.90" y="1414.00" font-size="8.8" text-anchor="middle" fill="#1F7BD0" font-weight="400" font-family='"Liberation Sans","Noto Sans CJK SC",sans-serif'>371.91</text>
<text x="56.80" y="1352.20" font-size="8.8" text-anchor="middle" fill="#CF2129" font-weight="400" font-family='"Liberation Sans","Noto Sans CJK SC",sans-serif'>476.42</text>
<text x="90.50" y="1347.80" font-size="8.8" text-anchor="middle" fill="#CF2129" font-weight="400" font-family='"Liberation Sans","Noto Sans CJK SC",sans-serif'>483.25</text>
<text x="152.30" y="1284.80" font-size="8.8" text-anchor="middle" fill="#CF2129" font-weight="400" font-family='"Liberation Sans","Noto Sans CJK SC",sans-serif'>592.71</text>
<text x="265.80" y="1409.40" font-size="8.8" text-anchor="middle" fill="#CF2129" font-weight="400" font-family='"Liberation Sans","Noto Sans CJK SC",sans-serif'>362.84</text>
<text x="293.00" y="1397.10" font-size="8.8" text-anchor="middle" fill="#CF2129" font-weight="400" font-family='"Liberation Sans","Noto Sans CJK SC",sans-serif'>410.20</text>
<text x="347.20" y="1357.60" font-size="8.8" text-anchor="middle" fill="#CF2129" font-weight="400" font-family='"Liberation Sans","Noto Sans CJK SC",sans-serif'>458.95</text>
<text x="391.30" y="1389.40" font-size="8.8" text-anchor="middle" fill="#CF2129" font-weight="400" font-family='"Liberation Sans","Noto Sans CJK SC",sans-serif'>408.17</text>
<text x="623.50" y="1383.00" font-size="8.8" text-anchor="middle" fill="#CF2129" font-weight="400" font-family='"Liberation Sans","Noto Sans CJK SC",sans-serif'>373.85</text>
</svg>
</body></html>
